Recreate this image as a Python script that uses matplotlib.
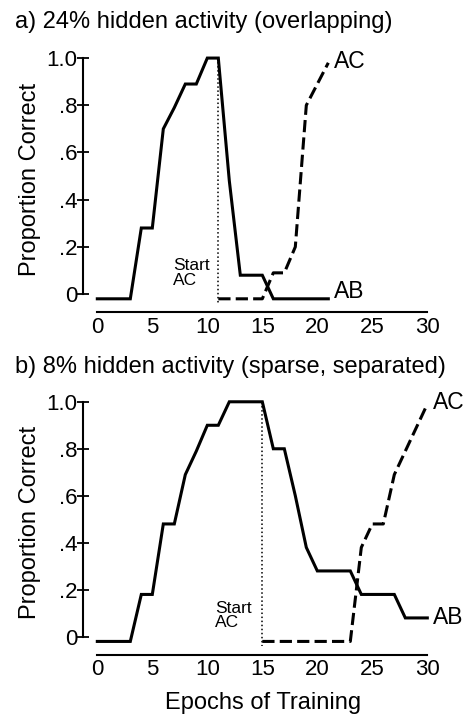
import matplotlib
matplotlib.use("Agg")
import matplotlib.pyplot as plt

plt.rcParams['font.family'] = ['Liberation Sans', 'DejaVu Sans']

# panel a: 24% hidden activity
epochs_ab_a = [0, 1, 2, 3, 4, 5, 6, 7, 8, 9, 10, 11, 12, 13, 14, 15, 16, 17, 18, 19, 20, 21]
ab_a = [-0.02, -0.02, -0.02, -0.02, 0.28, 0.28, 0.70, 0.79, 0.89, 0.89, 1.0, 1.0,
        0.48, 0.08, 0.08, 0.08, -0.02, -0.02, -0.02, -0.02, -0.02, -0.02]
epochs_ac_a = [11, 12, 13, 14, 15, 16, 17, 18, 19, 20, 21]
ac_a = [-0.02, -0.02, -0.02, -0.02, -0.02, 0.09, 0.09, 0.20, 0.80, 0.89, 0.98]
start_a = 11

# panel b: 8% hidden activity
epochs_ab_b = list(range(0, 31))
ab_b = [-0.02, -0.02, -0.02, -0.02, 0.18, 0.18, 0.48, 0.48, 0.69, 0.79, 0.90, 0.90,
        1.0, 1.0, 1.0, 1.0, 0.80, 0.80, 0.60, 0.38, 0.28, 0.28, 0.28, 0.28,
        0.18, 0.18, 0.18, 0.18, 0.08, 0.08, 0.08]
epochs_ac_b = [15, 16, 17, 18, 19, 20, 21, 22, 23, 24, 25, 26, 27, 28, 29, 30]
ac_b = [-0.02, -0.02, -0.02, -0.02, -0.02, -0.02, -0.02, -0.02, -0.02,
        0.38, 0.48, 0.48, 0.69, 0.79, 0.89, 0.99]
start_b = 15

yticks = [0, 0.2, 0.4, 0.6, 0.8, 1.0]
ytick_labels = ["0", ".2", ".4", ".6", ".8", "1.0"]
xticks = [0, 5, 10, 15, 20, 25, 30]


def panel(ax, ex_ab, ab, ex_ac, ac, start, ab_lab_y, start_txt_x):
    ax.plot(ex_ab, ab, color="black", lw=2.2, solid_joinstyle="miter")
    ax.plot(ex_ac, ac, color="black", lw=2.2, dashes=(4, 1.7))
    ax.plot([start, start], [1.0, -0.04], color="black", lw=1.1, ls=":")
    ax.text(ex_ac[-1] + 0.5, ac[-1] + 0.005, "AC", fontsize=16.5, va="center", ha="left")
    ax.text(ex_ab[-1] + 0.5, ab_lab_y, "AB", fontsize=16.5, va="center", ha="left")
    ax.text(start_txt_x, 0.09, "Start\nAC", fontsize=12.5, va="center", ha="left",
            linespacing=0.95)
    ax.set_xlim(-1.3, 31.5)
    ax.set_ylim(-0.076, 1.05)
    for s in ["top", "right"]:
        ax.spines[s].set_visible(False)
    ax.spines["left"].set_bounds(0, 1)
    ax.spines["bottom"].set_bounds(0, 30)
    ax.spines["left"].set_linewidth(1.5)
    ax.spines["bottom"].set_linewidth(1.5)
    ax.set_yticks(yticks)
    ax.set_yticklabels(ytick_labels)
    ax.set_xticks(xticks)
    ax.tick_params(axis="y", direction="inout", length=8, width=1.3, pad=0, labelsize=16)
    ax.tick_params(axis="x", length=0, pad=3.5, labelsize=16)
    ax.set_ylabel("Proportion Correct", fontsize=17, labelpad=4)


fig = plt.figure(figsize=(4.64, 7.15), dpi=100)
ax1 = fig.add_axes([0.1789, 0.5636, 0.7776, 0.3717])
ax2 = fig.add_axes([0.1789, 0.0845, 0.7776, 0.370])

panel(ax1, epochs_ab_a, ab_a, epochs_ac_a, ac_a, start_a, 0.01, 6.9)
panel(ax2, epochs_ab_b, ab_b, epochs_ac_b, ac_b, start_b, 0.08, 10.7)
ax2.set_xlabel("Epochs of Training", fontsize=17, labelpad=8)

fig.text(15 / 464, 1 - 22 / 715, "a) 24% hidden activity (overlapping)", fontsize=17,
         va="center", ha="left")
fig.text(15 / 464, 1 - 367 / 715, "b) 8% hidden activity (sparse, separated)", fontsize=17,
         va="center", ha="left")

fig.savefig("out.png", dpi=100)
